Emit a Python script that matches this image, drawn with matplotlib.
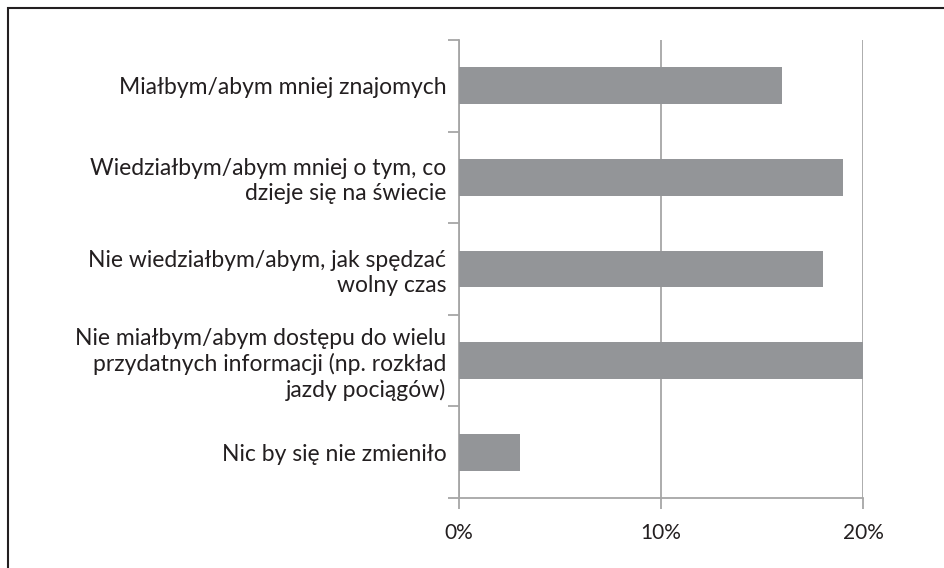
import matplotlib.pyplot as plt
from matplotlib.patches import Rectangle
from matplotlib.ticker import FixedLocator, PercentFormatter

# ---- dane ---- #
categories = [
    "Miałbym/abym mniej znajomych",
    "Wiedziałbym/abym mniej o tym, co\ndzieje się na świecie",
    "Nie wiedziałbym/abym, jak spędzać\nwolny czas",
    "Nie miałbym/abym dostępu do wielu\nprzydatnych informacji (np. rozkład\njazdy pociągów)",
    "Nic by się nie zmieniło",
]
values = [16, 19, 18, 20, 3]
x_ticks = [0, 10, 20]

plt.rcParams['font.family'] = ['Lato', 'DejaVu Sans']

fig = plt.figure(figsize=(9.44, 5.68), dpi=100)
ax = fig.add_axes([459 / 944, 1 - 498 / 568, 404 / 944, 458 / 568])

pos = list(range(len(categories)))
ax.barh(pos, values, height=0.4, color='#939598', zorder=3)

ax.set_xlim(0, 20)
ax.set_ylim(len(categories) - 0.5, -0.5)

# ---- osie ---- #
gray = '#a6a6a6'
ax.xaxis.set_major_locator(FixedLocator(x_ticks))
ax.xaxis.set_major_formatter(PercentFormatter(decimals=0))
ax.grid(axis='x', color=gray, lw=1.3, zorder=0)
ax.set_yticks(pos)
ax.set_yticklabels(categories, ha='right', linespacing=1.22)
ax.yaxis.set_minor_locator(FixedLocator([p - 0.5 for p in pos] + [len(pos) - 0.5]))
ax.tick_params(axis='y', which='major', length=0, pad=9, labelsize=16.5, labelcolor='#231f20')
ax.tick_params(axis='y', which='minor', length=8, width=1.3, color=gray)
ax.tick_params(axis='x', length=8, width=1.3, color=gray, pad=10, labelsize=15, labelcolor='#231f20')

for s in ['top', 'right']:
    ax.spines[s].set_visible(False)
for s in ['left', 'bottom']:
    ax.spines[s].set_color(gray)
    ax.spines[s].set_linewidth(1.3)

# ---- ramka ---- #
fig.patches.append(Rectangle((8 / 944, -0.1), 1.2, 1 - 8 / 568 + 0.1,
                             transform=fig.transFigure, fill=False,
                             ec='#231f20', lw=1.5))

plt.savefig('out.png', dpi=100)
